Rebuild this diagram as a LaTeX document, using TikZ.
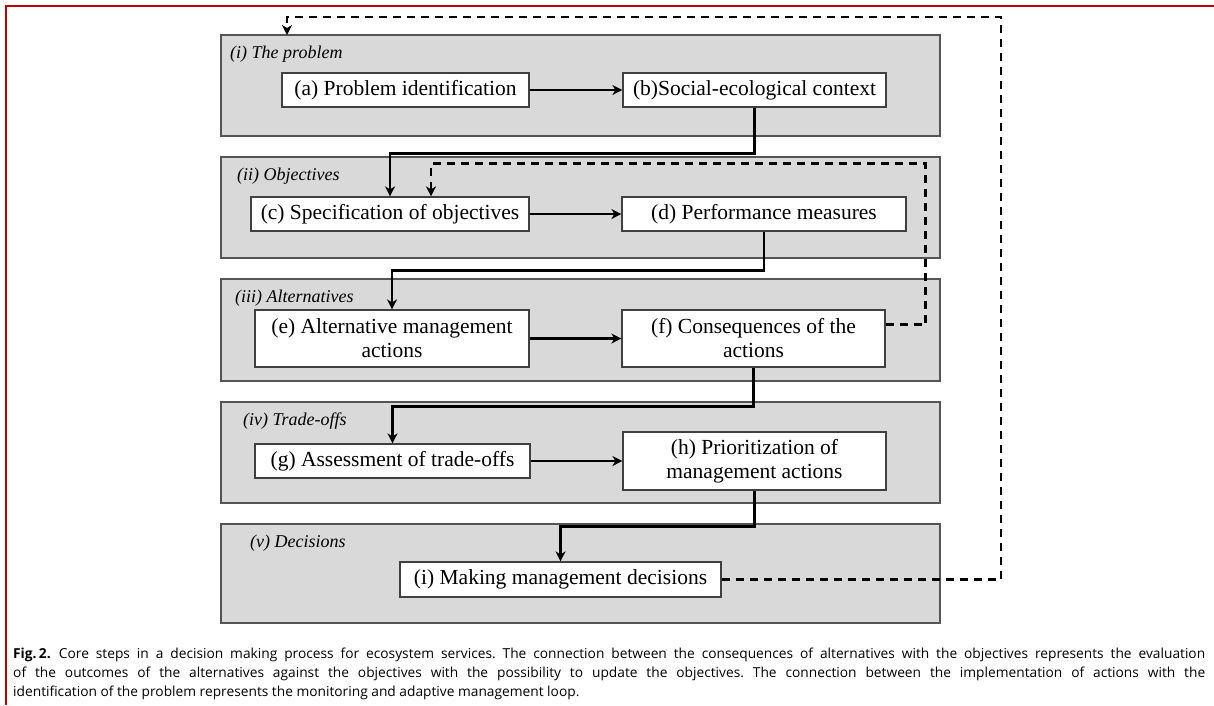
\documentclass[tikz,border=0pt]{standalone}
\usepackage{fontspec}
\setmainfont{Liberation Serif}
\newfontfamily\capfont{Open Sans}
\usetikzlibrary{arrows.meta}
\definecolor{panelgray}{RGB}{217,217,217}
\definecolor{edgegray}{RGB}{85,85,85}
\definecolor{borderred}{RGB}{192,0,0}

\begin{document}
\begin{tikzpicture}[x=1pt,y=-1pt]
		\tikzset{panel/.style = {draw=edgegray, fill=panelgray, line width=1.5pt, minimum width=719pt, minimum height=101pt, inner sep=0pt},
			stepbox/.style = {draw=black!75, fill=white, line width=1.2pt, inner sep=0pt, align=center, font=\fontsize{21.5}{24}\selectfont},
			phase/.style = {anchor=base west, inner sep=0pt, font=\fontsize{18}{20}\selectfont\itshape},
			link/.style = {line width=2.4pt, -{Stealth[length=10pt,width=10pt,inset=3pt]}},
			feedback/.style = {link, dash pattern=on 8pt off 6pt}}

		\useasboundingbox (0,0) rectangle (1214,705);
		\draw[borderred, line width=2.5pt] (6,705) -- (6,6) -- (1214,6);

		\node[panel] (P1) at (580.5,85.5) {};
		\node[panel] (P2) at (580.5,207.5) {};
		\node[panel, minimum height=102pt] (P3) at (580.5,330) {};
		\node[panel] (P4) at (580.5,452.5) {};
		\node[panel, minimum height=99pt] (P5) at (580.5,573.5) {};

		\node[phase] (T1) at (230,58) {(i) The problem};
		\node[phase] (T2) at (237,180) {(ii) Objectives};
		\node[phase] (T3) at (235,302) {(iii) Alternatives};
		\node[phase] (T4) at (243,425) {(iv) Trade-offs};
		\node[phase] (T5) at (250,547) {(v) Decisions};

		\node[stepbox, minimum width=247pt, minimum height=34pt] (a) at (405.5,90) {(a) Problem identification};
		\node[stepbox, minimum width=263pt, minimum height=34pt] (b) at (754.5,90) {(b)Social-ecological context};
		\node[stepbox, minimum width=278pt, minimum height=34pt] (c) at (390,214) {(c) Specification of objectives};
		\node[stepbox, minimum width=284pt, minimum height=34pt] (d) at (764,214) {(d) Performance measures};
		\node[stepbox, minimum width=274pt, minimum height=57pt] (e) at (392,338.5) {(e) Alternative management\\actions};
		\node[stepbox, minimum width=263pt, minimum height=57pt] (f) at (753.5,338.5) {(f) Consequences of the\\actions};
		\node[stepbox, minimum width=275pt, minimum height=34pt] (g) at (392.5,461) {(g) Assessment of trade-offs};
		\node[stepbox, minimum width=263pt, minimum height=58pt] (h) at (754.5,461) {(h) Prioritization of\\management actions};
		\node[stepbox, minimum width=321pt, minimum height=35pt] (i) at (560.5,579.5) {(i) Making management decisions};

		\coordinate (cin) at ([xshift=41pt]c.north);
		\coordinate (p1in) at (287,35);

		\draw[link] (a) -- (b);
		\draw[link] (c) -- (d);
		\draw[link] (e) -- (f);
		\draw[link] (g) -- (h);
		\draw[link] (b.south) -- ++(0,46) -| (c.north);
		\draw[link] (d.south) -- ++(0,39) -| (e.north);
		\draw[link] (f.south) -- ++(0,39) -| (g.north);
		\draw[link] (h.south) -- ++(0,36) -| (i.north);
		\draw[feedback] ([yshift=14pt]f.east) -- ++(40,0) |- ([yshift=33pt]cin) -- (cin);
		\draw[feedback] (i.east) -- ++(279.5,0) |- ([yshift=18pt]p1in) -- (p1in);

		\node[anchor=north west, inner sep=0pt, text width=1192pt, align=justify, font=\capfont\fontsize{13.75}{19}\selectfont\frenchspacing] (cap) at (13,648) {\textbf{Fig.\,2.}\hspace{0.6em}Core steps in a decision making process for ecosystem services. The connection between the consequences of alternatives with the objectives represents the evaluation\linebreak of the outcomes of the alternatives against the objectives with the possibility to update the objectives. The connection between the implementation of actions with the\linebreak identification of the problem represents the monitoring and adaptive management loop.};
	\end{tikzpicture}
\end{document}
